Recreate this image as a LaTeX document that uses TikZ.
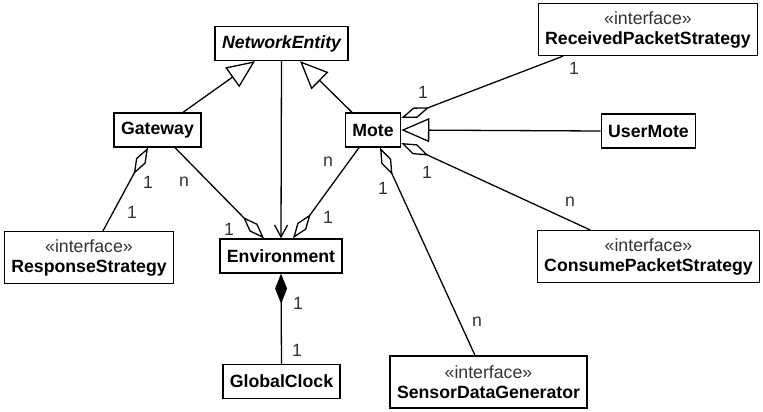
\documentclass[tikz,border=0pt]{standalone}
\usepackage{fontspec}
\setmainfont{Liberation Sans}
\usetikzlibrary{arrows.meta}
\definecolor{txtgray}{HTML}{333333}
\newcommand{\umlfont}{\fontsize{17.7}{20}\selectfont}
\tikzset{
  cls/.style={draw=black, line width=1.3pt, fill=white, minimum height=34pt, inner xsep=7pt, inner ysep=0pt, font=\umlfont\bfseries},
  iface/.style={cls, minimum height=52pt, align=center, font=\umlfont},
  conn/.style={line width=1.3pt, draw=black},
  gen/.style={conn, -{Triangle[open, length=28pt, width=24pt]}},
  agg/.style={conn, {Diamond[open, length=30pt, width=11pt]}-},
  comp/.style={conn, {Diamond[length=30pt, width=12pt]}-},
  nav/.style={conn, -{Straight Barb[length=12pt, width=13pt]}},
  mult/.style={font=\umlfont, text=txtgray, inner sep=0pt}
}
\begin{document}
\begin{tikzpicture}[x=1pt, y=-1pt]
  \useasboundingbox (0,0) rectangle (763,412);

  % Klassen
  \node[cls, font=\umlfont\bfseries\itshape] (ne) at (281.5,43.5) {NetworkEntity};
  \node[cls] (gw) at (157.5,130) {Gateway};
  \node[cls] (mote) at (373,130) {Mote};
  \node[cls] (env) at (281,256) {Environment};
  \node[cls] (clock) at (281.5,381.5) {GlobalClock};
  \node[cls] (umote) at (648.5,131) {UserMote};

  % Interfaces
  \node[iface] (resp) at (89,257.5) {{\color{txtgray}«interface»}\\\textbf{ResponseStrategy}};
  \node[iface] (recv) at (648,29.5) {{\color{txtgray}«interface»}\\\textbf{ReceivedPacketStrategy}};
  \node[iface] (cons) at (648.5,256.5) {{\color{txtgray}«interface»}\\\textbf{ConsumePacketStrategy}};
  \node[iface] (sens) at (488.5,382) {{\color{txtgray}«interface»}\\\textbf{SensorDataGenerator}};

  % Vererbung
  \draw[gen] ([xshift=25.5]gw.north) -- ([xshift=-26.5]ne.south);
  \draw[gen] ([xshift=-21]mote.north) -- ([xshift=18.5]ne.south);
  \draw[gen] (umote.west) -- (mote.east);

  % Assoziationen
  \draw[nav] (ne.south) -- (env.north);
  \draw[agg] ([xshift=-17]env.north) -- ([xshift=17.5]gw.south);
  \draw[agg] ([xshift=12]env.north) -- ([xshift=-14]mote.south);
  \draw[agg] ([xshift=-9.5]gw.south) -- ([xshift=14]resp.north);
  \draw[comp] (env.south) -- (clock.north);
  \draw[agg] ([yshift=12]mote.east) -- ([xshift=-85]recv.south);
  \draw[agg] ([yshift=-13]mote.east) -- ([xshift=-58.5]cons.north);
  \draw[agg] ([xshift=7]mote.south) -- ([xshift=-13.5]sens.north);

  % Multiplizitaeten
  \node[mult] (m1) at (148,182) {1};
  \node[mult] (m2) at (132,212) {1};
  \node[mult] (m3) at (184,182) {n};
  \node[mult] (m4) at (229,229) {1};
  \node[mult] (m5) at (328,162) {n};
  \node[mult] (m6) at (328,217) {1};
  \node[mult] (m7) at (298,303) {1};
  \node[mult] (m8) at (297,350) {1};
  \node[mult] (m9) at (423,92) {1};
  \node[mult] (m10) at (574,68) {1};
  \node[mult] (m11) at (427,172) {1};
  \node[mult] (m12) at (570,202) {n};
  \node[mult] (m13) at (383,188) {1};
  \node[mult] (m14) at (477,322) {n};
\end{tikzpicture}
\end{document}
